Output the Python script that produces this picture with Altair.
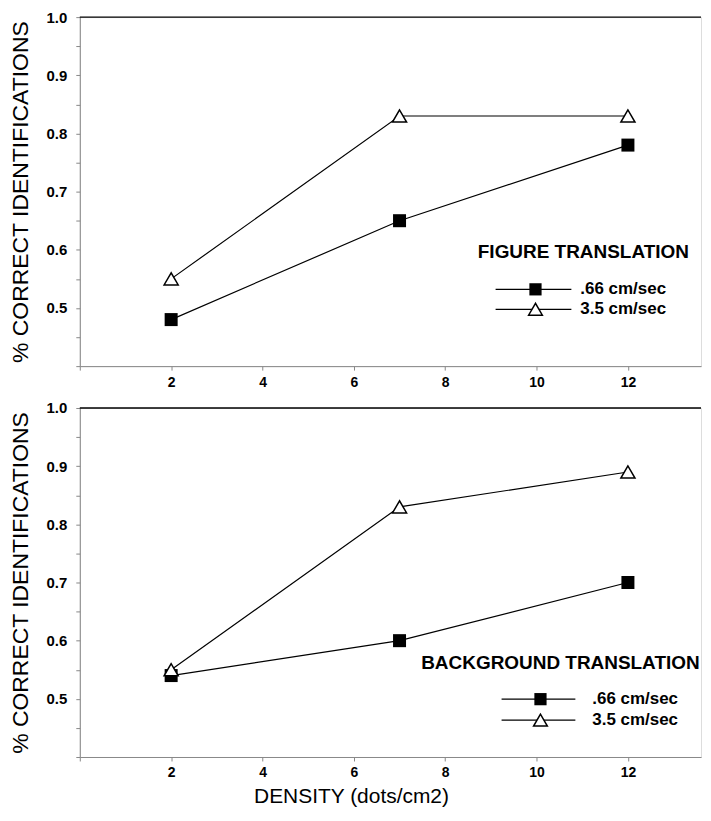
import altair as alt
import pandas as pd

# ---- data ----
density = [2, 7, 12]
fig_slow = [0.48, 0.65, 0.78]
fig_fast = [0.55, 0.83, 0.83]
bg_slow = [0.54, 0.60, 0.70]
bg_fast = [0.55, 0.83, 0.89]
series_labels = [".66 cm/sec", "3.5 cm/sec"]
panel_titles = ["FIGURE TRANSLATION", "BACKGROUND TRANSLATION"]
y_ticks = [0.4, 0.45, 0.5, 0.55, 0.6, 0.65, 0.7, 0.75, 0.8, 0.85, 0.9, 0.95, 1.0]
x_ticks = [0, 2, 4, 6, 8, 10, 12]
y_title = "% CORRECT IDENTIFICATIONS"
x_title = "DENSITY (dots/cm2)"

FONT = "Liberation Sans"
W, H = 623, 350


def panel(slow, fast, title, leg, bottom):
    df = pd.DataFrame({
        "density": density * 2,
        "value": slow + fast,
        "series": [series_labels[0]] * 3 + [series_labels[1]] * 3,
    })
    x_axis = dict(
        values=x_ticks,
        labelExpr="datum.value == 0 ? '' : datum.label",
        tickSize=4,
        labelPadding=5,
        labelFontSize=14,
        labelFontWeight="bold",
        grid=False,
    )
    if bottom:
        x_axis.update(title=x_title, titleX=272, titleY=40, titleBaseline="middle",
                      titleAlign="center", titleAnchor="start",
                      titleFontSize=21, titleFontWeight="normal")
    else:
        x_axis.update(title=None)
    x = alt.X("density:Q", scale=alt.Scale(domain=[0, 13.6], nice=False, zero=False),
              axis=alt.Axis(**x_axis))
    y = alt.Y("value:Q", scale=alt.Scale(domain=[0.4, 1.0], nice=False, zero=False),
              axis=alt.Axis(
                  values=y_ticks,
                  labelExpr="(datum.value >= 0.49 && abs(datum.value*10 - round(datum.value*10)) < 0.01) ? format(datum.value, '.1f') : ''",
                  tickSize=4, labelPadding=9, labelFontSize=15, labelFontWeight="bold",
                  title=y_title, titleFontSize=23, titleFontWeight="normal", titlePadding=14,
                  grid=False))
    base = alt.Chart(df)
    lines = base.mark_line(color="black", strokeWidth=1.2).encode(
        x=x, y=y, detail="series:N")
    sq = base.transform_filter(alt.datum.series == series_labels[0]).mark_point(
        shape="square", size=170, filled=True, color="black", opacity=1).encode(x=x, y=y)
    tri = base.transform_filter(alt.datum.series == series_labels[1]).mark_point(
        shape="triangle-up", size=200, fill="white", stroke="black", strokeWidth=1.5,
        opacity=1, filled=False).encode(x=x, y=y)

    top_rule = alt.Chart(pd.DataFrame({"a": [0]})).mark_rule(color="black", strokeWidth=1.3).encode(
        x=alt.value(0), x2=alt.value(W), y=alt.value(0))

    # legend
    ldf = pd.DataFrame({"label": series_labels, "row": [0, 1]})
    tdf = pd.DataFrame({"t": [title]})
    lt = alt.Chart(tdf).mark_text(font=FONT, fontSize=leg["tf"], fontWeight="bold", align="center",
                                  baseline="middle", color="black").encode(
        text="t:N", x=alt.value(leg["tx"]), y=alt.value(leg["ty"]))
    parts = [top_rule, lines, sq, tri, lt]
    for i, lab in enumerate(series_labels):
        one = alt.Chart(ldf[ldf.row == i])
        ry = leg["ry"][i]
        parts.append(one.mark_rule(color="black", strokeWidth=1.2).encode(
            x=alt.value(leg["l1"]), x2=alt.value(leg["l2"]), y=alt.value(ry)))
        if i == 0:
            parts.append(one.mark_point(shape="square", size=150, filled=True, color="black",
                                        opacity=1).encode(x=alt.value(leg["mx"]), y=alt.value(ry)))
        else:
            parts.append(one.mark_point(shape="triangle-up", size=190, fill="white",
                                        stroke="black", strokeWidth=1.5, opacity=1,
                                        filled=False).encode(x=alt.value(leg["mx"]), y=alt.value(ry)))
        parts.append(one.mark_text(font=FONT, fontSize=17, fontWeight="bold", align="left",
                                   baseline="middle", color="black").encode(
            text="label:N", x=alt.value(leg["lx"]), y=alt.value(ry)))
    return alt.layer(*parts).properties(width=W, height=H)


top = panel(fig_slow, fig_fast, panel_titles[0],
            dict(tx=505, ty=236, tf=19, ry=[273, 293], l1=417, l2=493, mx=457, lx=502), False)
bot = panel(bg_slow, bg_fast, panel_titles[1],
            dict(tx=482, ty=256, tf=19, ry=[292, 313], l1=423, l2=497, mx=462, lx=514), True)

chart = alt.vconcat(top, bot, spacing=42, bounds="flush").properties(
    padding={"left": 0, "top": 0, "right": 0, "bottom": 0}
).configure_view(stroke=None).configure_axis(
    labelFont=FONT, titleFont=FONT, domainColor="black", tickColor="black",
    labelColor="black", titleColor="black", domainWidth=1.5, tickWidth=1.2
).configure(background="white")

chart.save("out.html", embed_options={"renderer": "svg", "actions": False})
